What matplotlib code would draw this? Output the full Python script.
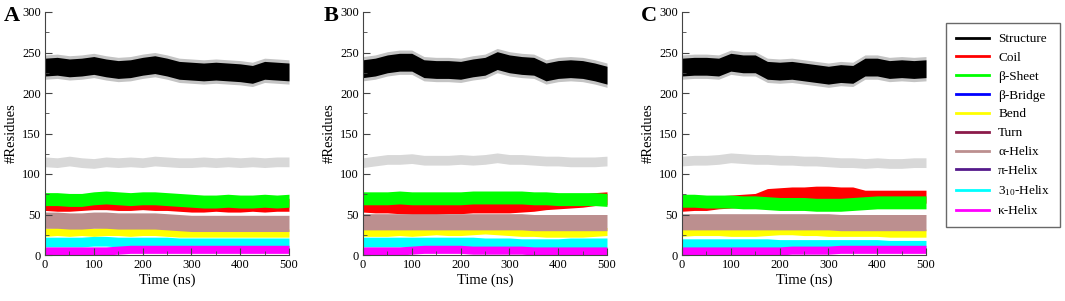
import matplotlib
matplotlib.use('Agg')
import matplotlib.pyplot as plt
from matplotlib.lines import Line2D
from matplotlib.ticker import MultipleLocator
import numpy as np

plt.rcParams['font.family'] = ['Liberation Serif', 'DejaVu Serif']
plt.rcParams['mathtext.fontset'] = 'stix'

# time axis (ns), values read every 25 ns
time = np.arange(0, 501, 25)

# panel A : band centre values (#residues)
struct_a = [232, 233, 231, 232, 234, 231, 229, 230, 233, 235, 232, 228, 227, 226, 227, 226, 225, 223, 228, 227, 226]
gray_a   = [115, 114, 116, 114, 113, 115, 114, 115, 114, 116, 115, 114, 114, 115, 114, 115, 114, 115, 114, 115, 115]
coil_a   = [63, 62, 62, 63, 64, 64, 63, 63, 64, 63, 63, 62, 61, 61, 62, 61, 61, 62, 61, 62, 62]
sheet_a  = [69, 69, 68, 68, 70, 71, 70, 69, 70, 70, 69, 68, 67, 66, 66, 67, 66, 66, 67, 66, 67]
alpha_a  = [43, 43, 42, 42, 43, 43, 42, 42, 42, 42, 41, 40, 39, 39, 39, 39, 39, 39, 39, 39, 39]
bend_a   = [28, 29, 28, 29, 28, 29, 29, 28, 29, 29, 28, 27, 27, 27, 27, 27, 27, 27, 27, 27, 27]
h310_a   = [16, 16, 16, 16, 17, 17, 16, 16, 16, 16, 16, 15, 15, 15, 15, 15, 15, 15, 15, 15, 15]
kappa_a  = [5, 5, 5, 5, 5, 5, 6, 7, 7, 7, 7, 7, 7, 7, 7, 7, 7, 7, 7, 7, 7]

# panel B
struct_b = [230, 232, 236, 238, 238, 230, 229, 229, 228, 231, 233, 240, 236, 234, 233, 226, 229, 230, 229, 226, 222]
gray_b   = [114, 116, 118, 118, 119, 117, 117, 117, 118, 117, 118, 120, 118, 118, 117, 116, 116, 115, 115, 115, 116]
coil_b   = [61, 60, 60, 59, 58, 58, 58, 59, 59, 60, 60, 60, 60, 61, 62, 64, 65, 66, 67, 69, 70]
sheet_b  = [70, 70, 70, 71, 70, 70, 70, 70, 70, 71, 71, 71, 71, 71, 70, 70, 69, 69, 69, 69, 68]
alpha_b  = [41, 41, 41, 41, 41, 41, 41, 41, 41, 41, 41, 41, 41, 41, 40, 40, 40, 40, 40, 40, 40]
bend_b   = [28, 28, 28, 29, 28, 29, 30, 29, 29, 30, 31, 30, 29, 28, 28, 27, 27, 27, 27, 28, 29]
h310_b   = [16, 16, 16, 16, 16, 16, 16, 16, 16, 16, 15, 15, 15, 14, 14, 14, 14, 15, 15, 15, 15]
kappa_b  = [5, 5, 5, 5, 6, 7, 7, 7, 7, 6, 6, 6, 6, 6, 5, 5, 5, 5, 5, 5, 5]

# panel C
struct_c = [232, 233, 233, 232, 238, 236, 236, 228, 227, 228, 226, 224, 222, 224, 223, 232, 232, 229, 230, 229, 230]
gray_c   = [116, 117, 117, 118, 120, 119, 118, 118, 117, 117, 116, 116, 115, 114, 114, 113, 114, 113, 113, 114, 114]
coil_c   = [62, 63, 63, 65, 66, 67, 68, 74, 75, 76, 76, 77, 77, 76, 76, 72, 72, 72, 72, 72, 72]
sheet_c  = [67, 67, 66, 66, 66, 65, 65, 64, 63, 63, 63, 62, 62, 62, 63, 64, 65, 65, 65, 65, 65]
alpha_c  = [41, 41, 41, 41, 41, 41, 41, 41, 41, 41, 41, 41, 41, 40, 40, 40, 40, 40, 40, 40, 40]
bend_c   = [28, 29, 29, 29, 28, 28, 28, 29, 30, 30, 29, 29, 28, 28, 28, 28, 28, 27, 27, 27, 27]
h310_c   = [14, 14, 14, 14, 14, 14, 14, 14, 13, 13, 13, 13, 13, 13, 13, 13, 13, 12, 12, 12, 12]
kappa_c  = [5, 5, 5, 5, 5, 5, 5, 5, 5, 6, 6, 6, 6, 7, 7, 7, 7, 7, 7, 7, 7]

# half width of each fluctuation band
half = {'struct': 11, 'gray': 6, 'coil': 8, 'sheet': 8, 'alpha': 10,
        'bend': 5, 'h310': 6, 'kappa': 5}

labels = ['Structure', 'Coil', 'β-Sheet', 'β-Bridge', 'Bend', 'Turn',
          'α-Helix', 'π-Helix', r'$\mathregular{3_{10}}$-Helix', 'κ-Helix']
colors = ['black', '#ff0000', '#00ff00', '#0000ff', '#ffff00', '#8b1a4a',
          '#bc8f8f', '#551a8b', '#00ffff', '#ff00ff']

panels = [
    ('A', 45, dict(struct=struct_a, gray=gray_a, coil=coil_a, sheet=sheet_a, alpha=alpha_a,
                   bend=bend_a, h310=h310_a, kappa=kappa_a)),
    ('B', 363, dict(struct=struct_b, gray=gray_b, coil=coil_b, sheet=sheet_b, alpha=alpha_b,
                    bend=bend_b, h310=h310_b, kappa=kappa_b)),
    ('C', 682, dict(struct=struct_c, gray=gray_c, coil=coil_c, sheet=sheet_c, alpha=alpha_c,
                    bend=bend_c, h310=h310_c, kappa=kappa_c)),
]

band_color = {'gray': '#d8d8d8', 'coil': '#ff0000', 'sheet': '#00ff00', 'alpha': '#bc8f8f',
              'bend': '#ffff00', 'h310': '#00ffff', 'kappa': '#ff00ff'}
order = ['gray', 'coil', 'sheet', 'bend', 'alpha', 'h310', 'kappa']

W, H = 1065, 301
fig = plt.figure(figsize=(W / 100, H / 100), dpi=100)

for letter, left, d in panels:
    ax = fig.add_axes([left / W, 1 - 255 / H, 244 / W, 243 / H])
    s = np.array(d['struct'])
    ax.fill_between(time, s - half['struct'] - 4, s + half['struct'] + 4, color='#c4c4c4', lw=0)
    ax.fill_between(time, s - half['struct'], s + half['struct'], color='black', lw=0)
    for k in order:
        v = np.array(d[k])
        ax.fill_between(time, v - half[k], v + half[k], color=band_color[k], lw=0)
    ax.set_xlim(0, 500)
    ax.set_ylim(0, 300)
    ax.xaxis.set_major_locator(MultipleLocator(100))
    ax.xaxis.set_minor_locator(MultipleLocator(50))
    ax.yaxis.set_major_locator(MultipleLocator(50))
    ax.yaxis.set_minor_locator(MultipleLocator(25))
    ax.tick_params(which='both', direction='in', labelsize=9, color='#444444')
    ax.tick_params(which='major', length=5, pad=3)
    ax.tick_params(which='minor', length=3)
    ax.spines['top'].set_visible(False)
    ax.spines['right'].set_visible(False)
    for sp in ('left', 'bottom'):
        ax.spines[sp].set_color('#444444')
    ax.set_xlabel('Time (ns)', fontsize=10.5, labelpad=2)
    ax.set_ylabel('#Residues', fontsize=10.5, labelpad=3)
    fig.text((left - 25) / W, 1 - 16 / H, letter, fontsize=16, fontweight='bold',
             ha='right', va='center')

handles = [Line2D([], [], color=c, lw=2) for c in colors]
fig.legend(handles, labels, loc='upper left', bbox_to_anchor=(946 / W, 1 - 23 / H),
           fontsize=9.5, frameon=True, fancybox=False, edgecolor='#444444',
           handlelength=2.5, handletextpad=0.7, labelspacing=0.5, borderpad=0.75,
           borderaxespad=0)

fig.savefig('out.png', dpi=100)
